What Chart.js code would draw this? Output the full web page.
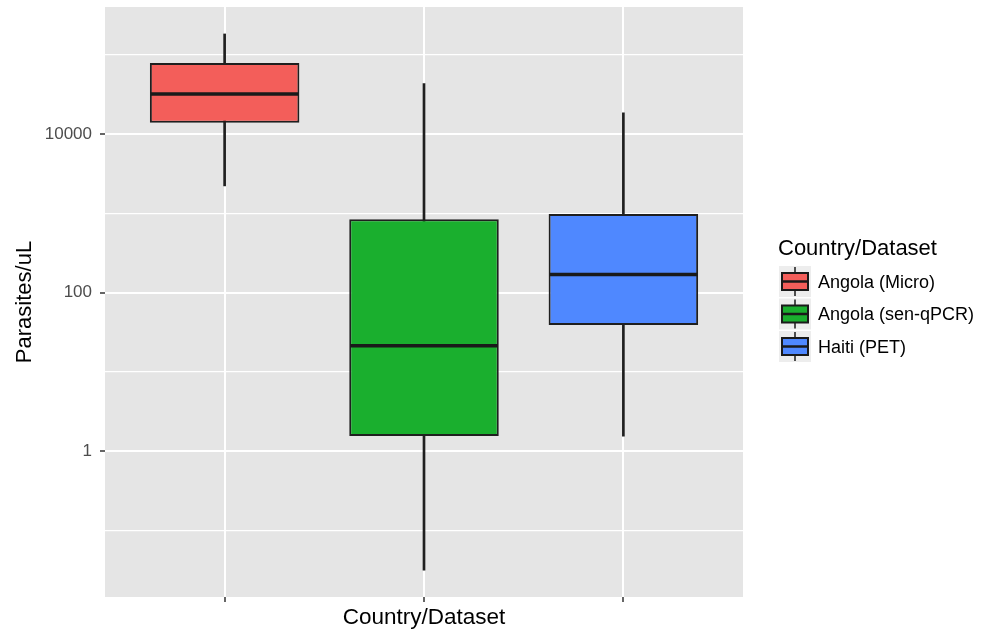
<!DOCTYPE html>
<html>
<head>
<meta charset="utf-8">
<script src="https://cdn.jsdelivr.net/npm/chart.js@4.4.0/dist/chart.umd.min.js"></script>
<style>
  html, body { margin: 0; padding: 0; background: #fff; }
</style>
</head>
<body>
<canvas id="boxChart" width="988" height="634"></canvas>
<script>
// dados (Parasites/uL, escala log)
var categorias = ['Angola (Micro)', 'Angola (sen-qPCR)', 'Haiti (PET)'];
var posicoes = [1, 2, 3];
var bigodeInf = [2210, 0.0316, 1.55];
var quartil1 = [13800, 1.55, 39];
var mediana = [31900, 21.4, 169];
var quartil3 = [78500, 840, 975];
var bigodeSup = [182000, 43000, 18400];
var cores = ['#F35E5A', '#1AAF2E', '#4F88FF'];

var gradeY = [0.1, 1, 10, 100, 1000, 10000, 100000];
var rotulosY = [1, 100, 10000];

var fonte = '"Liberation Sans", Arial, Helvetica, sans-serif';

// fundo cinza do painel
var painel = {
  id: 'painel',
  beforeDraw: function (chart) {
    var a = chart.chartArea, ctx = chart.ctx;
    ctx.save();
    ctx.fillStyle = '#E5E5E5';
    ctx.fillRect(a.left, a.top, a.right - a.left, a.bottom - a.top);
    ctx.restore();
  }
};

// linha da mediana sobre cada caixa
var medianas = {
  id: 'medianas',
  afterDatasetsDraw: function (chart) {
    var ctx = chart.ctx;
    var meta = chart.getDatasetMeta(0);
    var y = chart.scales.y;
    ctx.save();
    ctx.strokeStyle = '#1a1a1a';
    ctx.lineWidth = 3.5;
    meta.data.forEach(function (el, i) {
      var py = y.getPixelForValue(mediana[i]);
      ctx.beginPath();
      ctx.moveTo(el.x - el.width / 2 + 1, py);
      ctx.lineTo(el.x + el.width / 2 - 1, py);
      ctx.stroke();
    });
    ctx.restore();
  }
};

// legenda no estilo ggplot
var legenda = {
  id: 'legenda',
  afterDraw: function (chart) {
    var ctx = chart.ctx, a = chart.chartArea;
    var lx = a.right + 35;
    var cy = (a.top + a.bottom) / 2;
    ctx.save();
    ctx.fillStyle = '#000';
    ctx.font = '22px ' + fonte;
    ctx.textBaseline = 'middle';
    ctx.textAlign = 'left';
    ctx.fillText('Country/Dataset', lx, cy - 53);
    categorias.forEach(function (nome, i) {
      var iy = cy - 20 + i * 32.5;
      ctx.fillStyle = '#EDEDED';
      ctx.fillRect(lx + 1, iy - 16, 32, 31);
      ctx.strokeStyle = '#1a1a1a';
      ctx.lineWidth = 1.5;
      ctx.beginPath();
      ctx.moveTo(lx + 17, iy - 15);
      ctx.lineTo(lx + 17, iy + 14);
      ctx.stroke();
      ctx.fillStyle = cores[i];
      ctx.lineWidth = 2;
      ctx.fillRect(lx + 4, iy - 9, 26, 17);
      ctx.strokeRect(lx + 4, iy - 9, 26, 17);
      ctx.lineWidth = 2.5;
      ctx.beginPath();
      ctx.moveTo(lx + 4, iy - 0.5);
      ctx.lineTo(lx + 30, iy - 0.5);
      ctx.stroke();
      ctx.fillStyle = '#000';
      ctx.font = '18px ' + fonte;
      ctx.fillText(nome, lx + 40, iy + 1);
    });
    ctx.restore();
  }
};

var ctx = document.getElementById('boxChart').getContext('2d');
var chart = new Chart(ctx, {
  type: 'bar',
  data: {
    datasets: [{
      label: 'caixas',
      data: posicoes.map(function (p, i) { return { x: p, y: [quartil1[i], quartil3[i]] }; }),
      backgroundColor: cores,
      borderColor: '#1f1f1f',
      borderWidth: 2,
      borderSkipped: false,
      grouped: false,
      barPercentage: 0.75,
      categoryPercentage: 1,
      order: 1
    }, {
      label: 'bigodes',
      data: posicoes.map(function (p, i) { return { x: p, y: [bigodeInf[i], bigodeSup[i]] }; }),
      backgroundColor: '#1f1f1f',
      barThickness: 2,
      grouped: false,
      order: 2
    }]
  },
  options: {
    responsive: false,
    animation: false,
    layout: { padding: { top: 7, right: 245, left: 0, bottom: 0 } },
    plugins: { legend: { display: false }, tooltip: { enabled: false } },
    scales: {
      x: {
        type: 'linear',
        min: 0.4,
        max: 3.6,
        offset: false,
        afterBuildTicks: function (s) { s.ticks = posicoes.map(function (v) { return { value: v }; }); },
        ticks: { autoSkip: false, padding: 0, callback: function () { return ''; } },
        grid: { offset: false, color: '#fff', lineWidth: 2, tickColor: '#333', tickLength: 5, tickWidth: 1.5 },
        border: { display: false },
        title: { display: true, text: 'Country/Dataset', color: '#000', font: { size: 22.5, family: fonte }, padding: { top: 0, bottom: 3 } },
        afterFit: function (s) { s.height = 37; s.paddingLeft = 0; s.paddingRight = 0; }
      },
      y: {
        type: 'logarithmic',
        min: 0.0145,
        max: 398000,
        afterBuildTicks: function (s) {
          s.ticks = gradeY.map(function (v) { return { value: v, major: rotulosY.indexOf(v) >= 0 }; });
        },
        ticks: {
          autoSkip: false,
          padding: 8,
          color: '#4D4D4D',
          font: { size: 17, family: fonte },
          callback: function (v) { return rotulosY.indexOf(v) >= 0 ? String(v) : ''; }
        },
        grid: {
          color: '#fff',
          lineWidth: function (c) { return c.tick && c.tick.major ? 2 : 1.2; },
          tickColor: function (c) { return c.tick && c.tick.major ? '#333' : 'rgba(0,0,0,0)'; },
          tickLength: 5,
          tickWidth: 1.5
        },
        border: { display: false },
        title: { display: true, text: 'Parasites/uL', color: '#000', font: { size: 22, family: fonte }, padding: { top: 12, bottom: 0 } },
        afterFit: function (s) { s.width = 105; s.paddingTop = 0; s.paddingBottom = 0; }
      }
    }
  },
  plugins: [painel, medianas, legenda]
});
</script>
</body>
</html>
